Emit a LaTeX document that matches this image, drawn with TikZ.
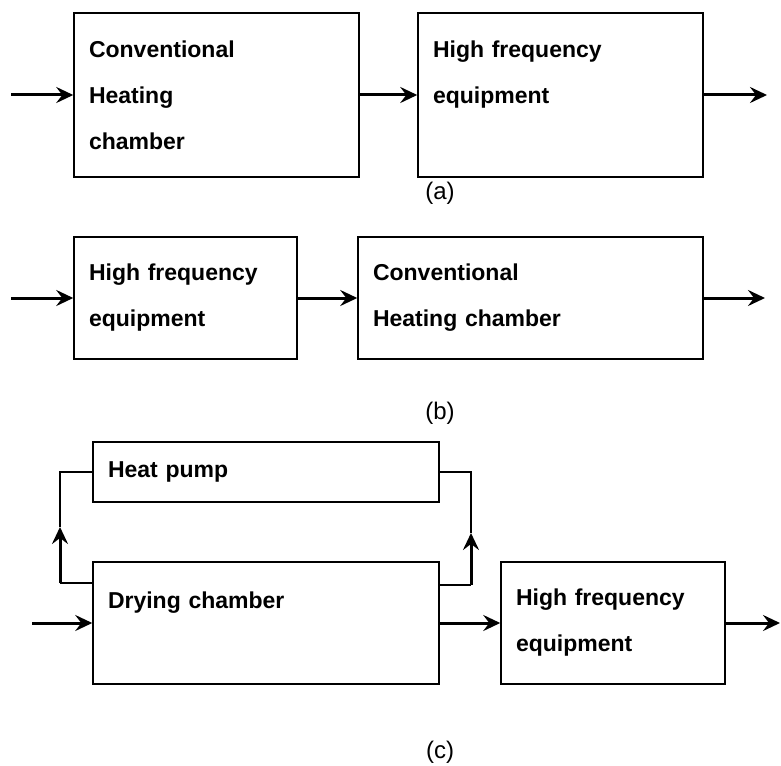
\documentclass[tikz,border=0pt]{standalone}
\usepackage{fontspec}
\setmainfont{Liberation Sans}
\usetikzlibrary{arrows.meta}

\begin{document}
\begin{tikzpicture}[x=1pt, y=-1pt,
    every node/.style = {inner sep=0pt},
    unit/.style = {draw, line width=1.5pt, align=left, inner xsep=15pt,
        font=\fontsize{23}{46}\selectfont\bfseries},
    flow/.style = {line width=3pt, -{Stealth[length=17pt,width=16pt,inset=6pt]}},
    link/.style = {line width=1.5pt},
    tag/.style = {font=\fontsize{24}{28}\selectfont}]
    \useasboundingbox (0,0) rectangle (781,765);

    \node[unit, text width=255pt, minimum height=164pt] (heatA) at (216.5,95) {Conventional\\Heating\\chamber};
    \node[unit, text width=255pt, minimum height=164pt] (hfA) at (560.5,95) {High frequency\\equipment\\~};
    \node[tag] (tagA) at (440,193) {(a)};
    \coordinate (inA) at (11,95);
    \coordinate (outA) at (767,95);
    \draw[flow] (inA) -- (heatA.west);
    \draw[flow] (heatA) -- (hfA);
    \draw[flow] (hfA) -- (outA);

    \node[unit, text width=193pt, minimum height=122pt] (hfB) at (185.5,298) {High frequency\\equipment};
    \node[unit, text width=315pt, minimum height=122pt] (heatB) at (530.5,298) {Conventional\\Heating chamber};
    \node[tag] (tagB) at (440,413) {(b)};
    \coordinate (inB) at (11,298);
    \coordinate (outB) at (765,298);
    \draw[flow] (inB) -- (hfB.west);
    \draw[flow] (hfB) -- (heatB);
    \draw[flow] (heatB) -- (outB);

    \node[unit, text width=316pt, minimum height=60pt] (pump) at (266,472) {Heat pump};
    \node[unit, text width=316pt, minimum height=122pt] (dryC) at (266,623) {Drying chamber\\~};
    \node[unit, text width=194pt, minimum height=122pt] (hfC) at (613,623) {High frequency\\equipment};
    \node[tag] (tagC) at (440,752) {(c)};
    \coordinate (inC) at (32,623);
    \coordinate (outC) at (780,623);
    \draw[flow] (inC) -- (dryC.west);
    \draw[flow] (dryC) -- (hfC);
    \draw[flow] (hfC) -- (outC);

    \coordinate (lbot) at (60,583);
    \coordinate (ltip) at (60,527);
    \coordinate (rbot) at (471,585);
    \coordinate (rtip) at (471,533);
    \draw[link] (lbot -| dryC.west) -- (lbot);
    \draw[flow] (lbot) -- (ltip);
    \draw[link] (ltip) |- (pump.west);
    \draw[link] (rbot -| dryC.east) -- (rbot);
    \draw[flow] (rbot) -- (rtip);
    \draw[link] (rtip) |- (pump.east);
\end{tikzpicture}
\end{document}
